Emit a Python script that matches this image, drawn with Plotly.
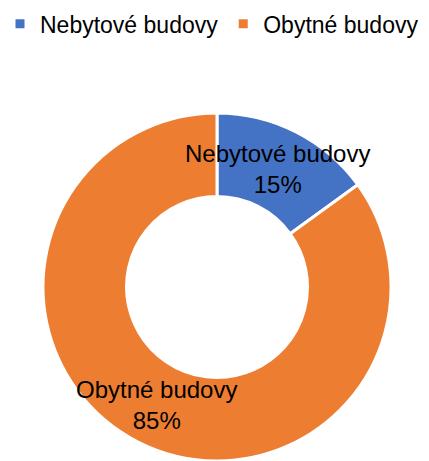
import math
import plotly.graph_objects as go

categories = ["Nebytové budovy", "Obytné budovy"]
values = [15, 85]
colors = ["#4472C4", "#ED7D31"]

W, H = 429, 461
cx, r = 217, 174
hole = 0.52
dom_x = [(cx - r) / W, (cx + r) / W]
dom_y = [0, (2 * r) / H]
FONT = "Liberation Sans, Arial"

fig = go.Figure(go.Pie(
    labels=categories,
    values=values,
    hole=hole,
    sort=False,
    direction="clockwise",
    rotation=0,
    marker=dict(colors=colors, line=dict(color="white", width=3)),
    textinfo="none",
    domain=dict(x=dom_x, y=dom_y),
    hoverinfo="label+percent",
))

# data labels placed at mid-angle of each slice, middle of the ring
total = sum(values)
cum = 0
pcx = (dom_x[0] + dom_x[1]) / 2 * W
pcy = (dom_y[0] + dom_y[1]) / 2 * H
rm = r * (1 + hole) / 2
for lab, v in zip(categories, values):
    mid = (cum + v / 2) / total * 2 * math.pi
    cum += v
    px = pcx + rm * math.sin(mid)
    py = pcy + rm * math.cos(mid)
    fig.add_annotation(
        x=px / W, y=py / H, xref="paper", yref="paper",
        text=f"{lab}<br>{round(100 * v / total)}%",
        showarrow=False, xanchor="center", yanchor="middle",
        font=dict(family=FONT, size=24, color="black"),
    )

fig.update_layout(
    width=W, height=H,
    margin=dict(l=0, r=0, t=0, b=0),
    paper_bgcolor="white",
    plot_bgcolor="white",
    font=dict(family=FONT, size=24, color="black"),
    legend=dict(orientation="h", x=0, xanchor="left", y=0.995, yanchor="top",
                font=dict(size=23), itemwidth=30),
    showlegend=True,
)
fig.write_html("out.html")
